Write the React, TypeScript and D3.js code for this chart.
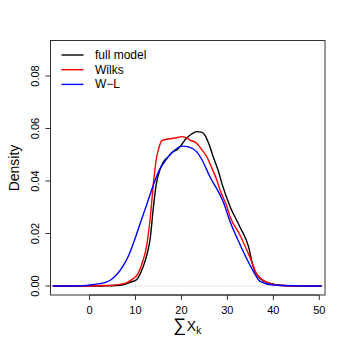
import React from "react";
import * as d3 from "d3";

const fullX = [-8, 0, 4, 7, 9, 10.3, 11.7, 12.5, 13.2, 13.9, 14.5, 15.3, 16.1, 17, 18.2, 19, 19.7, 21.1, 22.3, 23.3, 24.3, 25.1, 26, 26.9, 28, 28.8, 30.6, 32.7, 34.6, 35.6, 37.1, 39.3, 42, 46, 50.5];
const fullY = [0, 0, 0.0001, 0.0004, 0.0015, 0.0025, 0.0075, 0.012, 0.018, 0.03, 0.0385, 0.0442, 0.0473, 0.049, 0.0512, 0.0518, 0.0531, 0.0563, 0.058, 0.0588, 0.0586, 0.0575, 0.054, 0.0493, 0.044, 0.0391, 0.0302, 0.0226, 0.015, 0.0074, 0.0029, 0.001, 0.0002, 0, 0];

const wilksX = [-8, 2, 5, 6.6, 8, 9.5, 10.5, 11.4, 12.4, 13.2, 13.9, 14.6, 15, 15.7, 16.8, 18.2, 19, 20.1, 21, 21.9, 23.3, 24.4, 25.5, 26.6, 27.7, 28.4, 29.9, 30.6, 32.7, 34.9, 36.4, 38.6, 41, 45, 50.5];
const wilksY = [0, 0.0001, 0.0003, 0.0006, 0.0012, 0.0028, 0.0045, 0.0085, 0.015, 0.0257, 0.039, 0.049, 0.052, 0.0553, 0.0559, 0.0563, 0.0565, 0.0569, 0.0565, 0.0556, 0.0544, 0.052, 0.0493, 0.045, 0.0404, 0.0366, 0.0302, 0.0264, 0.0195, 0.011, 0.0045, 0.0014, 0.0003, 0, 0];

const wlX = [-8, -2, 0.1, 2.3, 3.5, 4.5, 5.5, 6.6, 7.7, 8.8, 10, 11, 12.4, 13.9, 15.3, 16.1, 18.2, 20.1, 21.5, 23.3, 24.5, 26.2, 28.4, 29.1, 30.6, 32.3, 34.9, 36, 37.1, 40, 45, 50.5];
const wlY = [0, 0.0001, 0.0004, 0.0009, 0.0014, 0.0022, 0.0036, 0.0058, 0.0088, 0.0128, 0.0185, 0.0237, 0.0308, 0.0385, 0.0445, 0.0467, 0.0512, 0.0533, 0.053, 0.0512, 0.048, 0.0416, 0.0347, 0.032, 0.0245, 0.0175, 0.008, 0.0045, 0.0018, 0.0004, 0.0001, 0];

const xTicks = [0, 10, 20, 30, 40, 50];
const yTicks = [0, 0.02, 0.04, 0.06, 0.08];
const legendLabels = ["full model", "Wilks", "W\u2212L"];
const seriesColors = ["#000000", "#ff0000", "#0000ff"];

const W = 346, H = 346;
const box = { left: 50.5, right: 325, top: 40.5, bottom: 295 };
const font = "Liberation Sans, Arial, Helvetica, sans-serif";

export default function App() {
  const x = d3.scaleLinear().domain([-8.49, 51.24]).range([box.left, box.right]);
  const y = d3.scaleLinear().domain([0, 0.08]).range([286, 76]);
  const line = d3
    .line<[number, number]>()
    .x((d) => x(d[0]))
    .y((d) => y(d[1]))
    .curve(d3.curveMonotoneX);
  const series = [
    fullX.map((v, i) => [v, fullY[i]] as [number, number]),
    wilksX.map((v, i) => [v, wilksY[i]] as [number, number]),
    wlX.map((v, i) => [v, wlY[i]] as [number, number]),
  ];
  return (
    <svg width={W} height={H} style={{ position: "absolute", left: 0, top: 0, background: "#fff" }} fontFamily={font}>
      <rect x={0} y={0} width={W} height={H} fill="#fff" />
      <line x1={box.left} x2={box.right} y1={y(0)} y2={y(0)} stroke="#e6e6e6" strokeWidth={1} />
      {series.map((s, i) => (
        <path key={i} d={line(s) || ""} fill="none" stroke={seriesColors[i]} strokeWidth={1.4} />
      ))}
      <rect x={box.left} y={box.top} width={box.right - box.left} height={box.bottom - box.top} fill="none" stroke="#333" strokeWidth={1} />
      <line x1={x(0)} x2={x(50)} y1={box.bottom} y2={box.bottom} stroke="#333" />
      {xTicks.map((t) => (
        <g key={t}>
          <line x1={x(t)} x2={x(t)} y1={box.bottom} y2={box.bottom + 5} stroke="#333" />
          <text x={x(t)} y={314} fontSize={11} textAnchor="middle">{t}</text>
        </g>
      ))}
      <line x1={box.left} x2={box.left} y1={y(0)} y2={y(0.08)} stroke="#333" />
      {yTicks.map((t) => (
        <g key={t}>
          <line x1={box.left - 5} x2={box.left} y1={y(t)} y2={y(t)} stroke="#333" />
          <text x={0} y={0} fontSize={11} textAnchor="middle" transform={`translate(39,${y(t)}) rotate(-90)`}>{t.toFixed(2)}</text>
        </g>
      ))}
      <text fontSize={14} textAnchor="middle" transform={`translate(19,168) rotate(-90)`}>Density</text>
      <text x={173} y={331} fontSize={14}>
        <tspan fontSize={18}>{"\u2211"}</tspan>
        <tspan dx={1}>X</tspan>
        <tspan fontSize={10} dy={3}>k</tspan>
      </text>
      {legendLabels.map((l, i) => (
        <g key={l}>
          <line x1={61.5} x2={83.5} y1={55 + i * 14.7} y2={55 + i * 14.7} stroke={seriesColors[i]} strokeWidth={1.4} />
          <text x={95} y={55 + i * 14.7 + 4} fontSize={12}>{l}</text>
        </g>
      ))}
    </svg>
  );
}
